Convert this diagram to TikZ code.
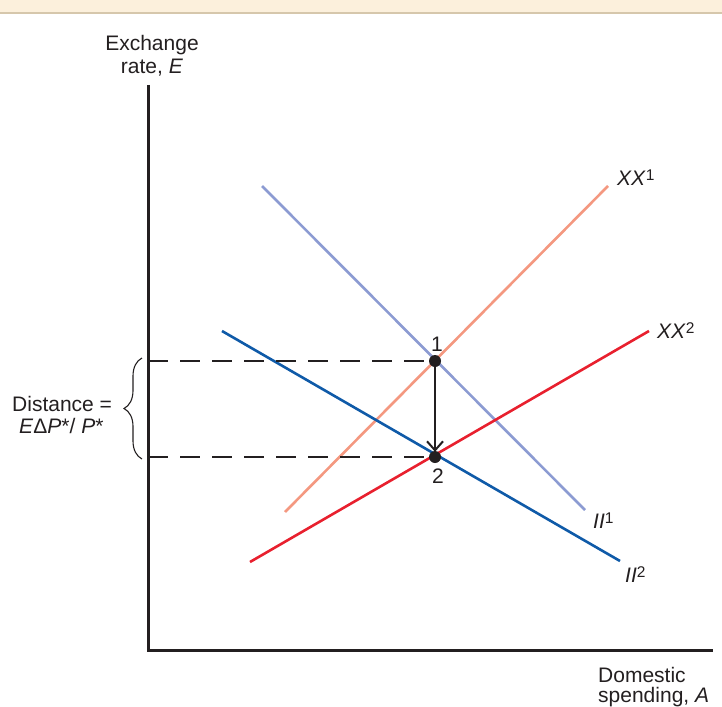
\documentclass[tikz,border=0pt]{standalone}
\usepackage{fontspec}
\setmainfont{Liberation Sans}
\usetikzlibrary{arrows.meta,decorations.pathreplacing}
\definecolor{bandfill}{RGB}{252,240,220}
\definecolor{bandline}{RGB}{214,199,172}
\definecolor{txt}{RGB}{35,31,32}
\definecolor{xxone}{RGB}{244,152,128}
\definecolor{iione}{RGB}{140,155,210}
\definecolor{xxtwo}{RGB}{232,32,46}
\definecolor{iitwo}{RGB}{15,90,168}
\newcommand{\supr}[1]{\raisebox{5pt}{\fontsize{15.5}{15.5}\selectfont #1}}
\tikzset{
  lbl/.style={font=\fontsize{21}{21}\selectfont, text=txt, inner sep=0pt},
  axisline/.style={draw=txt, line width=3pt},
  curve/.style={line width=2.6pt},
  guide/.style={draw=txt, line width=1.4pt, dash pattern=on 20pt off 12pt},
  pt/.style={circle, fill=txt, inner sep=0pt, minimum size=12pt},
  move/.style={draw=txt, line width=2pt, -{Straight Barb[length=9pt,width=16pt]}},
  bracestyle/.style={draw=txt, line width=1.1pt, decorate, decoration={brace, amplitude=18pt, aspect=0.5}}
}
\begin{document}
\begin{tikzpicture}[x=1pt,y=-1pt]
\useasboundingbox (0,0) rectangle (722,706);
% top band
\fill[bandfill] (0,0) rectangle (722,12);
\draw[bandline, line width=2pt] (0,13) -- (722,13);

% axes
\coordinate (origin) at (148,650);
\coordinate (ytop) at (148,85);
\coordinate (xend) at (713,650);
\draw[axisline] (ytop) -- (origin) -- (xend);

% curve endpoints
\coordinate (xxonea) at (285,512);
\coordinate (xxoneb) at (608,186);
\coordinate (iionea) at (262,186);
\coordinate (iioneb) at (585,510);
\coordinate (xxtwoa) at (250,562);
\coordinate (xxtwob) at (649,331);
\coordinate (iitwoa) at (222,331);
\coordinate (iitwob) at (620,561);

\draw[curve, xxone] (xxonea) -- (xxoneb);
\draw[curve, iione] (iionea) -- (iioneb);
\draw[curve, xxtwo] (xxtwoa) -- (xxtwob);
\draw[curve, iitwo] (iitwoa) -- (iitwob);

% points
\node[pt] (p1) at (435,361) {};
\node[pt] (p2) at (435,457) {};
\coordinate (d1) at (148,361);
\coordinate (d2) at (148,457);
\draw[guide] (d1) -- (p1.center);
\draw[guide] (d2) -- (p2.center);
\draw[move] (p1.center) -- ([yshift=-1pt]p2.north);

\node[lbl, anchor=base] (l1) at (437,351) {1};
\node[lbl, anchor=base] (l2) at (438,483) {2};

% curve labels
\node[lbl, anchor=base west] (lxx1) at (617,185) {\textit{XX}\supr{1}};
\node[lbl, anchor=base west] (lxx2) at (657,338) {\textit{XX}\supr{2}};
\node[lbl, anchor=base west] (lii1) at (593,528) {\textit{II}\supr{1}};
\node[lbl, anchor=base west] (lii2) at (625,582) {\textit{II}\supr{2}};

% axis labels
\node[lbl, anchor=base] (ya) at (152,51) {Exchange};
\node[lbl, anchor=base] (yb) at (152,74) {rate, \textit{E}};
\node[lbl, anchor=north west, align=left] (xa) at (598,667) {Domestic\\[-1pt]spending, \textit{A}};

% brace
\coordinate (bbot) at (142,459);
\coordinate (btop) at (142,358);
\draw[bracestyle] (bbot) -- (btop);
\node[lbl, anchor=base west] (da) at (12,411) {Distance =};
\node[lbl, anchor=base west] (db) at (19,433) {\textit{E}Δ\textit{P}*/ \textit{P}*};
\end{tikzpicture}
\end{document}
